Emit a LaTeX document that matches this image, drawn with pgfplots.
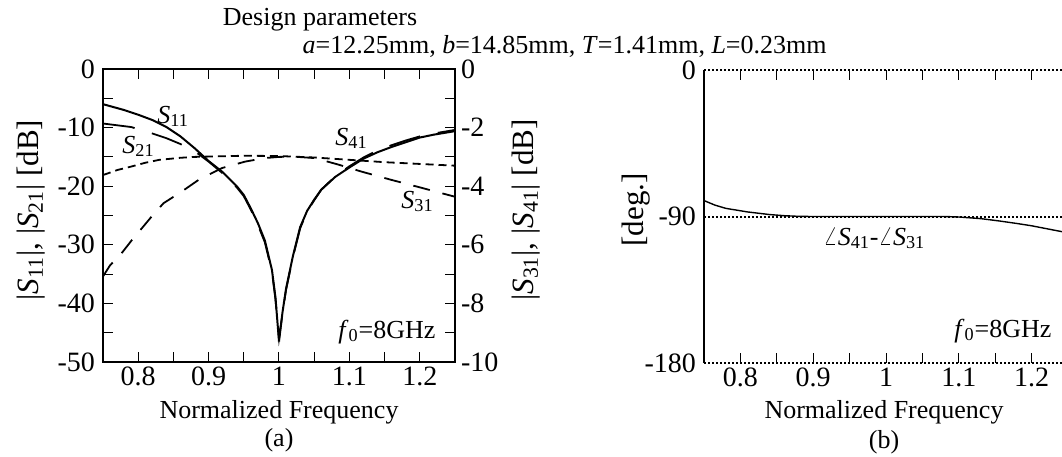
\documentclass[border=0pt]{standalone}
\usepackage{fontspec}
\setmainfont{Liberation Serif}
\usepackage{pgfplots}
\usepackage{pgfplotstable}
\pgfplotsset{compat=1.18}
\newcommand\tf{\fontsize{13}{15.5}\selectfont}
\newcommand\kf{\fontsize{14}{16.5}\selectfont}
\newcommand\lf{\fontsize{15.5}{18}\selectfont}

% |S11| (left axis, dB)
\pgfplotstableread{
f v
0.75 -6.0
0.78 -7.0
0.80 -7.8
0.82 -8.7
0.84 -9.9
0.86 -11.5
0.88 -13.5
0.90 -15.7
0.92 -17.6
0.94 -20.0
0.95 -21.5
0.96 -23.8
0.97 -26.3
0.98 -29.3
0.99 -34.3
0.995 -39.0
1.00 -46.5
1.005 -41.5
1.01 -37.5
1.02 -31.8
1.03 -27.0
1.04 -24.2
1.05 -22.3
1.06 -20.6
1.08 -18.4
1.10 -16.8
1.12 -15.3
1.14 -14.2
1.16 -13.3
1.18 -12.5
1.20 -11.7
1.22 -11.2
1.25 -10.6
}\tabSaa

% |S21| (left axis, dB)
\pgfplotstableread{
f v
0.75 -9.3
0.77 -9.6
0.79 -9.9
0.82 -11.0
0.84 -11.8
0.86 -12.8
0.88 -14.0
0.90 -15.8
0.92 -17.8
0.94 -20.2
0.95 -21.7
0.96 -24.0
0.97 -26.6
0.98 -29.6
0.99 -34.6
0.995 -39.3
1.00 -46.0
1.005 -41.7
1.01 -37.7
1.02 -32.0
1.03 -27.2
1.04 -24.3
1.05 -22.4
1.06 -20.6
1.08 -18.3
1.10 -16.6
1.12 -15.1
1.14 -13.9
1.16 -13.0
1.18 -12.2
1.20 -11.5
1.22 -11.0
1.25 -10.4
}\tabSba

% |S31| (right axis, dB)
\pgfplotstableread{
f v
0.75 -7.08
0.76 -6.70
0.776 -6.30
0.791 -5.84
0.805 -5.44
0.821 -4.98
0.836 -4.58
0.862 -4.18
0.886 -3.78
0.919 -3.38
0.952 -3.16
0.98 -3.04
1.00 -3.00
1.02 -2.99
1.051 -3.04
1.084 -3.26
1.117 -3.50
1.159 -3.78
1.197 -4.02
1.25 -4.36
}\tabSca

% |S41| (right axis, dB)
\pgfplotstableread{
f v
0.75 -3.62
0.77 -3.45
0.79 -3.33
0.81 -3.20
0.83 -3.10
0.86 -3.03
0.88 -3.00
0.95 -2.96
1.00 -2.97
1.05 -3.02
1.10 -3.10
1.15 -3.18
1.20 -3.24
1.25 -3.30
}\tabSda

% phase difference (deg)
\pgfplotstableread{
f v
0.75 -80.2
0.765 -83.0
0.78 -85.0
0.81 -87.2
0.84 -88.8
0.86 -89.5
0.88 -89.9
0.90 -90.0
1.00 -90.0
1.08 -90.0
1.10 -90.3
1.13 -91.3
1.155 -92.7
1.18 -94.3
1.20 -95.7
1.238 -99.0
1.25 -100.0
}\tabPh

\begin{document}
\begin{tikzpicture}
\useasboundingbox (0,0) rectangle (531pt,-228pt);
\pgfplotsset{
  common/.style={scale only axis, width=176pt, height=146.5pt,
    xmin=0.75, xmax=1.25, tick align=inside,
    major tick length=5pt, minor tick length=5pt,
    tick style={black, line width=0.5pt},
    tick label style={font=\kf},
    yticklabel style={xshift=-0.5pt},
    xticklabel style={yshift=1pt},
    /pgf/number format/assume math mode=true,
    xtick={0.8,0.9,1,1.1,1.2},
    minor xtick={0.75,0.85,0.95,1.05,1.15,1.25}},
}
% ---------- panel (a), left axis
\begin{axis}[common, at={(51.5pt,-181pt)}, anchor=south west,
  ymin=-50, ymax=0, ytick={0,-10,-20,-30,-40,-50},
  minor ytick={-5,-15,-25,-35,-45},
  xtick pos=both, ytick pos=left, axis line style={line width=0.6pt}]
\addplot[black, line width=1pt] table[x=f,y=v]{\tabSaa};
\addplot[black, line width=0.9pt, dash pattern=on 16pt off 9pt] table[x=f,y=v]{\tabSba};
\end{axis}
% ---------- panel (a), right axis
\begin{axis}[common, at={(51.5pt,-181pt)}, anchor=south west,
  ymin=-10, ymax=0, axis y line*=right, axis x line=none,
  ytick={0,-2,-4,-6,-8,-10}, minor ytick={-1,-3,-5,-7,-9},
  yticklabel style={xshift=0pt},
  axis line style={line width=0.6pt}]
\addplot[black, line width=0.9pt, dash pattern=on 8.5pt off 6.5pt] table[x=f,y=v]{\tabSca};
\addplot[black, line width=0.9pt, dash pattern=on 4pt off 2.5pt] table[x=f,y=v]{\tabSda};
\end{axis}
% ---------- panel (b)
\begin{axis}[common, width=182pt, at={(352pt,-181.5pt)}, anchor=south west,
  ymin=-180, ymax=0, ytick={0,-90,-180}, ytick style={draw=none},
  xtick pos=both, axis line style={draw=none}, clip=false]
\draw[line width=0.6pt] (rel axis cs:0,0) -- (rel axis cs:0,1);
\draw[densely dotted, line width=1pt] (rel axis cs:0,1) -- (rel axis cs:1,1);
\draw[densely dotted, line width=1pt] (rel axis cs:0,0) -- (rel axis cs:1,0);
\addplot[black, densely dotted, line width=1pt] coordinates {(0.75,-90) (1.25,-90)};
\addplot[black, line width=0.7pt] table[x=f,y=v]{\tabPh};
\end{axis}
% ---------- texts
\node[font=\tf, anchor=base] at (160pt,-12.5pt) {Design parameters};
\node[font=\tf, anchor=base east, inner sep=0pt] at (413.5pt,-26.5pt)
  {\textit{a}=12.25mm, \textit{b}=14.85mm, \textit{T}=1.41mm, \textit{L}=0.23mm};
\node[font=\tf, anchor=base west, inner sep=0pt] at (78.5pt,-61.5pt) {\textit{S}\textsubscript{11}};
\node[font=\tf, anchor=base west, inner sep=0pt] at (61pt,-76.5pt) {\textit{S}\textsubscript{21}};
\node[font=\tf, anchor=base west, inner sep=0pt] at (167.5pt,-72.5pt) {\textit{S}\textsubscript{41}};
\node[font=\tf, anchor=base west, inner sep=0pt] at (200.5pt,-104pt) {\textit{S}\textsubscript{31}};
\node[font=\tf, anchor=base west, inner sep=0pt] at (169pt,-169pt) {\textit{f}\textsubscript{0}=8GHz};
\node[font=\tf, anchor=base west, inner sep=0pt] at (477pt,-168.5pt) {\textit{f}\textsubscript{0}=8GHz};
\node[font=\tf, anchor=base west, inner sep=0pt] at (411.5pt,-122.5pt)
  {$\angle$\textit{S}\textsubscript{41}-$\angle$\textit{S}\textsubscript{31}};
\node[font=\tf, anchor=base] at (139.5pt,-209pt) {Normalized Frequency};
\node[font=\tf, anchor=base] at (139.5pt,-223pt) {(a)};
\node[font=\tf, anchor=base] at (442pt,-209pt) {Normalized Frequency};
\node[font=\tf, anchor=base] at (442pt,-224pt) {(b)};
\node[font=\lf, rotate=90] at (15.5pt,-105pt)
  {|\textit{S}\textsubscript{11}|, |\textit{S}\textsubscript{21}| [dB]};
\node[font=\lf, rotate=90] at (263pt,-105pt)
  {|\textit{S}\textsubscript{31}|, |\textit{S}\textsubscript{41}| [dB]};
\node[font=\lf, rotate=90] at (318pt,-105pt) {[deg.]};
\end{tikzpicture}
\end{document}
